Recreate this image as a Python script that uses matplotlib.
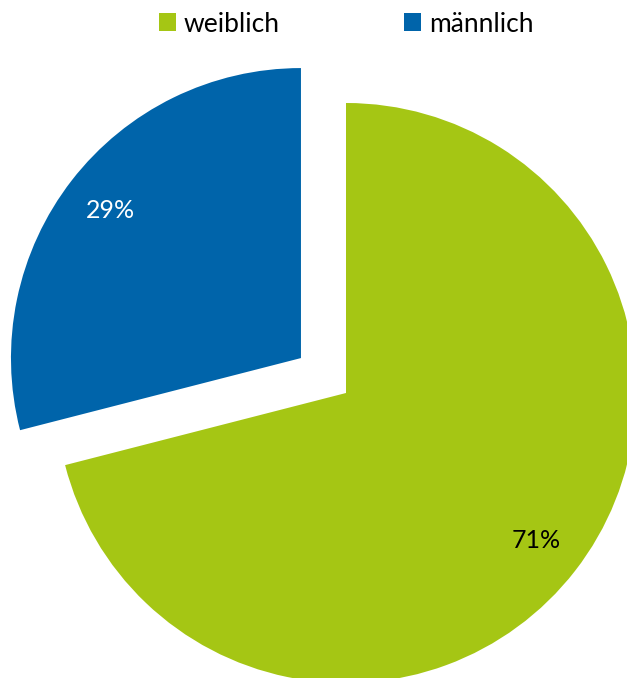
import matplotlib
matplotlib.use("Agg")
import matplotlib.pyplot as plt
from matplotlib.patches import Patch

categories = ["weiblich", "männlich"]
values = [71, 29]
colors = ["#A5C614", "#0064AA"]
label_colors = ["black", "white"]

plt.rcParams['font.family'] = ['Lato', 'DejaVu Sans']

W, H = 627, 678
fig = plt.figure(figsize=(W/100, H/100), dpi=100)
ax = fig.add_axes([0, 0, 1, 1])

R = 290
wedges, texts, autotexts = ax.pie(
    values, colors=colors, startangle=90, counterclock=False,
    explode=[0, 57], center=(346, H - 393), radius=R,
    autopct='%1.0f%%', pctdistance=0.83, frame=True,
    textprops={'fontsize': 18},
)
for t, c in zip(autotexts, label_colors):
    t.set_color(c)
ax.set_xlim(0, W)
ax.set_ylim(0, H)
ax.set_aspect('equal')
ax.axis('off')

handles = [Patch(facecolor=c, edgecolor='none') for c in colors]
fig.legend(handles, categories, loc='upper center', bbox_to_anchor=(0.552, 1.018),
           ncol=2, frameon=False, fontsize=19, handlelength=0.65, handleheight=0.65,
           handletextpad=0.3, columnspacing=4.7)

fig.savefig("out.png", dpi=100)
